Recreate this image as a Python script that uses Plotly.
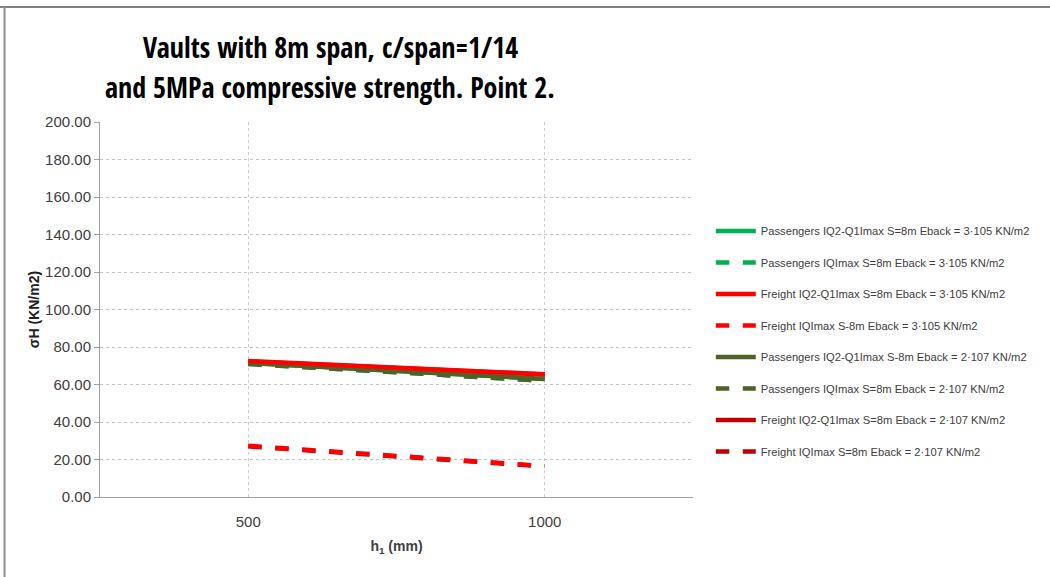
import plotly.graph_objects as go

categories = ["500", "1000"]
names = [
    "Passengers IQ2-Q1Imax S=8m Eback = 3·105 KN/m2",
    "Passengers IQImax S=8m Eback = 3·105 KN/m2",
    "Freight IQ2-Q1Imax S=8m Eback = 3·105 KN/m2",
    "Freight IQImax S-8m Eback = 3·105 KN/m2",
    "Passengers IQ2-Q1Imax S-8m Eback = 2·107 KN/m2",
    "Passengers IQImax S=8m Eback = 2·107 KN/m2",
    "Freight IQ2-Q1Imax S=8m Eback = 2·107 KN/m2",
    "Freight IQImax S=8m Eback = 2·107 KN/m2",
]
pass_q2_3e5 = [71.5, 63.0]
pass_q_3e5 = [71.0, 62.0]
frt_q2_3e5 = [72.5, 65.5]
frt_q_3e5 = [27.3, 16.5]
pass_q2_2e7 = [71.5, 63.0]
pass_q_2e7 = [71.0, 62.0]
frt_q2_2e7 = [72.3, 65.3]
frt_q_2e7 = [27.0, 16.3]

series = [pass_q2_3e5, pass_q_3e5, frt_q2_3e5, frt_q_3e5,
          pass_q2_2e7, pass_q_2e7, frt_q2_2e7, frt_q_2e7]
colors = ["#00b050", "#00b050", "#ff0000", "#ff0000",
          "#4f6228", "#4f6228", "#c00000", "#c00000"]
dashes = ["solid", "dash", "solid", "dash", "solid", "dash", "solid", "dash"]
draw_order = [6, 7, 0, 1, 4, 5, 2, 3]

fig = go.Figure()
for i in draw_order:
    fig.add_trace(go.Scatter(
        x=categories, y=series[i], name=names[i], mode="lines",
        line=dict(color=colors[i], width=4.5, dash=dashes[i]),
        legendrank=i + 1, legendgroup=str(i),
    ))

fig.update_layout(
    width=1050, height=577,
    paper_bgcolor="white", plot_bgcolor="white",
    margin=dict(l=100, r=357, t=122, b=80),
    font=dict(family="Liberation Sans, Arial, sans-serif", size=12, color="#404040"),
    legend=dict(
        x=1.03, xanchor="left", y=0.748, yanchor="top",
        font=dict(size=11.2, color="#404040"),
        tracegroupgap=12.5, itemwidth=40,
        bgcolor="rgba(0,0,0,0)",
    ),
    showlegend=True,
)
title_font = dict(family="Open Sans Condensed, Lato, sans-serif", size=28, color="black", weight="bold")
fig.add_annotation(text="Vaults with 8m span, c/span=1/14", xref="paper", yref="paper",
                   x=0.388, y=1.2, xanchor="center", yanchor="middle", showarrow=False, font=title_font)
fig.add_annotation(text="and 5MPa compressive strength. Point 2.", xref="paper", yref="paper",
                   x=0.388, y=1.093, xanchor="center", yanchor="middle", showarrow=False, font=title_font)

fig.update_xaxes(
    type="category", range=[-0.5, 1.5],
    showgrid=True, gridcolor="#cccccc", griddash="dot",
    showline=True, linecolor="#a0a0a0", linewidth=1,
    ticks="", ticklabelstandoff=11, tickfont=dict(size=15, color="#404040"),
    title=dict(text="<b>h<sub>1</sub> (mm)</b>", font=dict(size=14, color="#404040"), standoff=12),
)
fig.update_yaxes(
    range=[0, 200], dtick=20, tickformat=".2f",
    showgrid=True, gridcolor="#c4c4c4", griddash="dot",
    showline=True, linecolor="#a0a0a0", linewidth=1,
    ticks="outside", ticklen=5, tickcolor="#a0a0a0",
    tickfont=dict(size=15, color="#404040"),
    title=dict(text="<b>σH (KN/m2)</b>", font=dict(size=14, color="#202020"), standoff=2),
    zeroline=False,
)
fig.add_shape(type="line", xref="paper", yref="paper",
              x0=-0.2, x1=1.7, y0=1.3067, y1=1.3067,
              line=dict(color="#808080", width=2), layer="below")
fig.add_shape(type="line", xref="paper", yref="paper",
              x0=-0.161, x1=-0.161, y0=1.3067, y1=-0.3,
              line=dict(color="#909090", width=2), layer="below")

fig.write_html("out.html", config={"displayModeBar": False},
               post_script="document.body.style.margin='0px';")
